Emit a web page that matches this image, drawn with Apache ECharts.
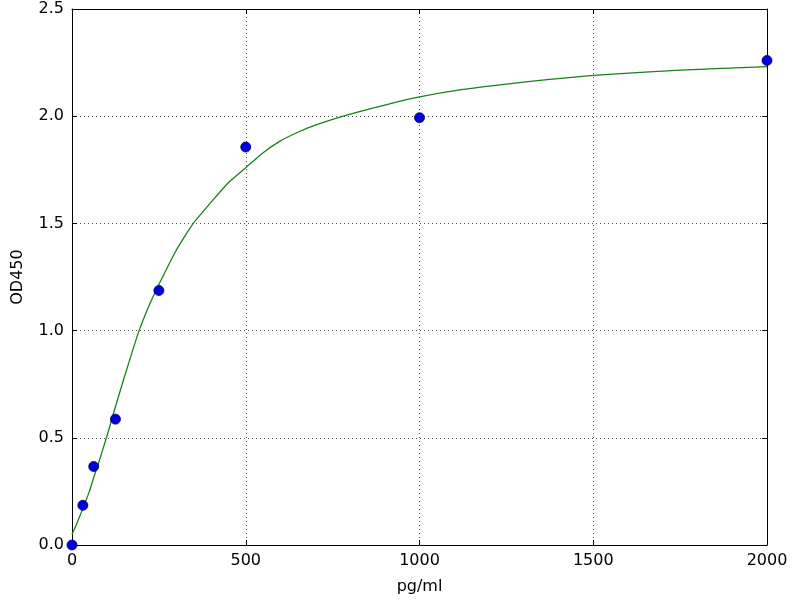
<!DOCTYPE html>
<html>
<head>
<meta charset="utf-8">
<script src="https://cdn.jsdelivr.net/npm/echarts@6/dist/echarts.min.js"></script>
<style>
html, body { margin: 0; padding: 0; background: #fff; }
#chart { width: 800px; height: 600px; }
</style>
</head>
<body>
<div id="chart"></div>
<script>
// Standard points
const concentrations = [0, 31.25, 62.5, 125, 250, 500, 1000, 2000];
const odValues = [0.0, 0.185, 0.366, 0.587, 1.187, 1.856, 1.993, 2.26];

// Fitted curve
const fitX = [0, 10, 20, 31.25, 50, 62.5, 75, 100, 125, 150, 175, 193, 220, 250, 300, 349, 406, 450, 500, 550, 600, 650, 700, 790, 900, 1000, 1125, 1250, 1375, 1500, 1750, 2000];
const fitY = [0.05, 0.085, 0.125, 0.17, 0.25, 0.315, 0.375, 0.505, 0.645, 0.78, 0.91, 1.0, 1.11, 1.215, 1.375, 1.5, 1.61, 1.69, 1.76, 1.83, 1.885, 1.925, 1.958, 2.005, 2.052, 2.09, 2.125, 2.15, 2.172, 2.19, 2.215, 2.231];

// Axis ticks
const xTicks = [0, 500, 1000, 1500, 2000];
const yTicks = [0.0, 0.5, 1.0, 1.5, 2.0, 2.5];

const xName = 'pg/ml';
const yName = 'OD450';

const pointData = concentrations.map((c, i) => [c, odValues[i]]);
const fitData = fitX.map((x, i) => [x, fitY[i]]);

const font = 'DejaVu Sans';
const gridLine = { show: true, lineStyle: { color: '#555', width: 1, type: [1, 3] } };

const chart = echarts.init(document.getElementById('chart'));
chart.setOption({
  animation: false,
  backgroundColor: '#fff',
  textStyle: { fontFamily: font },
  grid: { left: 72, right: 33, top: 9, bottom: 54, containLabel: false },
  xAxis: [{
    type: 'value',
    min: xTicks[0], max: xTicks[xTicks.length - 1], interval: xTicks[1] - xTicks[0],
    name: xName, nameLocation: 'middle', nameGap: 34,
    nameTextStyle: { fontSize: 16, color: '#000', fontFamily: font },
    axisLine: { show: true, onZero: false, lineStyle: { color: '#000', width: 1 } },
    axisTick: { show: true, inside: true, length: 5, lineStyle: { color: '#000' } },
    axisLabel: { fontSize: 16, color: '#000', margin: 8, fontFamily: font, formatter: v => String(v) },
    splitLine: gridLine
  }, {
    type: 'value', position: 'top',
    min: xTicks[0], max: xTicks[xTicks.length - 1], interval: xTicks[1] - xTicks[0],
    axisLine: { show: true, onZero: false, lineStyle: { color: '#000', width: 1 } },
    axisTick: { show: true, inside: true, length: 5, lineStyle: { color: '#000' } },
    axisLabel: { show: false },
    splitLine: { show: false }
  }],
  yAxis: [{
    type: 'value',
    min: yTicks[0], max: yTicks[yTicks.length - 1], interval: yTicks[1] - yTicks[0],
    name: yName, nameLocation: 'middle', nameGap: 46,
    nameTextStyle: { fontSize: 16, color: '#000', fontFamily: font },
    axisLine: { show: true, onZero: false, lineStyle: { color: '#000', width: 1 } },
    axisTick: { show: true, inside: true, length: 5, lineStyle: { color: '#000' } },
    axisLabel: { fontSize: 16, color: '#000', margin: 8, fontFamily: font, formatter: v => v.toFixed(1) },
    splitLine: gridLine
  }, {
    type: 'value', position: 'right',
    min: yTicks[0], max: yTicks[yTicks.length - 1], interval: yTicks[1] - yTicks[0],
    axisLine: { show: true, onZero: false, lineStyle: { color: '#000', width: 1 } },
    axisTick: { show: true, inside: true, length: 5, lineStyle: { color: '#000' } },
    axisLabel: { show: false },
    splitLine: { show: false }
  }],
  series: [{
    type: 'line',
    data: fitData,
    xAxisIndex: 0, yAxisIndex: 0,
    showSymbol: false,
    smooth: 0.15,
    lineStyle: { color: '#1a7f1a', width: 1.3 },
    clip: true,
    z: 2
  }, {
    type: 'scatter',
    data: pointData,
    xAxisIndex: 0, yAxisIndex: 0,
    symbol: 'circle',
    symbolSize: 10,
    itemStyle: { color: '#0000e0', borderColor: '#000060', borderWidth: 0.8, opacity: 1 },
    clip: true,
    z: 3
  }]
});
</script>
</body>
</html>
